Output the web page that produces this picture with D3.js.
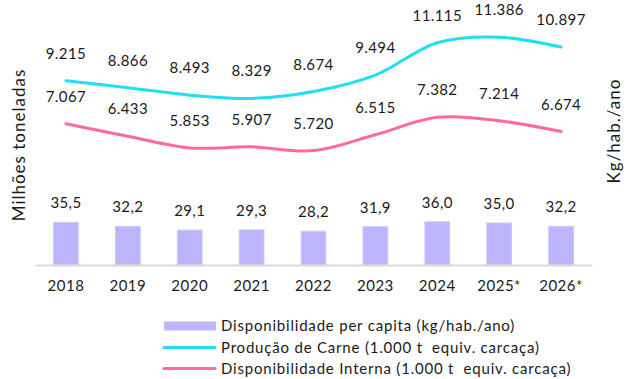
<!DOCTYPE html>
<html>
<head>
<meta charset="utf-8">
<script src="https://cdn.jsdelivr.net/npm/d3@7/dist/d3.min.js"></script>
<style>
  html, body { margin: 0; padding: 0; background: #fff; }
  svg { display: block; font-family: Lato, "Open Sans", sans-serif; }
  text { white-space: pre; }
</style>
</head>
<body>
<svg id="chart" width="630" height="379"></svg>
<script>
// Categories (years; * = projection)
const years = ["2018", "2019", "2020", "2021", "2022", "2023", "2024", "2025*", "2026*"];
// Per-capita availability, kg/hab./ano (bars, right axis)
const perCapita = [35.5, 32.2, 29.1, 29.3, 28.2, 31.9, 36.0, 35.0, 32.2];
// Meat production, 1.000 t equiv. carcaça (left axis)
const producao = [9215, 8866, 8493, 8329, 8674, 9494, 11115, 11386, 10897];
// Domestic availability, 1.000 t equiv. carcaça (left axis)
const interna = [7067, 6433, 5853, 5907, 5720, 6515, 7382, 7214, 6674];

const seriesNames = [
  "Disponibilidade per capita (kg/hab./ano)",
  "Produção de Carne (1.000 t  equiv. carcaça)",
  "Disponibilidade Interna (1.000 t  equiv. carcaça)"
];
const colors = { bar: "#bcb5fc", prod: "#22def3", int: "#ff6b96" };

const svg = d3.select("#chart");
const plot = { left: 35, right: 592, top: 25, bottom: 265 };

const x = d3.scaleBand().domain(years).range([plot.left, plot.right]).paddingInner(0.6).paddingOuter(0.3);
const yLeft = d3.scaleLinear().domain([0, 12000]).range([plot.bottom, plot.top]);
const yRight = d3.scaleLinear().domain([0, 200]).range([plot.bottom, plot.top]);
const cx = d => x(d) + x.bandwidth() / 2;

const fmtInt = v => d3.format(",")(v).replace(/,/g, ".");
const fmtDec = v => d3.format(".1f")(v).replace(".", ",");

// Bars
svg.append("g").selectAll("rect").data(years).join("rect")
  .attr("x", d => x(d))
  .attr("width", x.bandwidth())
  .attr("y", (d, i) => yRight(perCapita[i]))
  .attr("height", (d, i) => plot.bottom - yRight(perCapita[i]))
  .attr("fill", colors.bar)
  .attr("stroke", "#cdc8fd")
  .attr("stroke-width", 1);

// Baseline axis
const xAxis = d3.axisBottom(x).tickSize(0).tickPadding(15);
const gx = svg.append("g").attr("transform", `translate(0,${plot.bottom})`).call(xAxis);
gx.select(".domain").attr("stroke", "#d9d9d9").attr("stroke-width", 2);
gx.selectAll("text").attr("font-size", 15).attr("fill", "#1a1a1a")
  .attr("font-family", "Lato, sans-serif").attr("letter-spacing", 0.5);

// Lines
const line = yScale => d3.line()
  .x((d, i) => cx(years[i]))
  .y(d => yScale(d))
  .curve(d3.curveCatmullRom.alpha(0.5));

svg.append("path").datum(producao)
  .attr("d", line(yLeft)).attr("fill", "none")
  .attr("stroke", colors.prod).attr("stroke-width", 3).attr("stroke-linecap", "round");
svg.append("path").datum(interna)
  .attr("d", line(yLeft)).attr("fill", "none")
  .attr("stroke", colors.int).attr("stroke-width", 3).attr("stroke-linecap", "round");

// Value labels
const labelStyle = sel => sel.attr("text-anchor", "middle").attr("font-size", 15)
  .attr("letter-spacing", 0.4).attr("fill", "#1a1a1a");

svg.append("g").selectAll("text").data(perCapita).join("text")
  .attr("x", (d, i) => cx(years[i]))
  .attr("y", d => yRight(d) - 14)
  .text(fmtDec).call(labelStyle);

svg.append("g").selectAll("text").data(producao).join("text")
  .attr("x", (d, i) => cx(years[i]))
  .attr("y", d => yLeft(d) - 22)
  .text(fmtInt).call(labelStyle);

svg.append("g").selectAll("text").data(interna).join("text")
  .attr("x", (d, i) => cx(years[i]))
  .attr("y", d => yLeft(d) - 22)
  .text(fmtInt).call(labelStyle);

// Axis titles
svg.append("text")
  .attr("transform", "translate(25,145) rotate(-90)")
  .attr("text-anchor", "middle").attr("font-size", 17).attr("letter-spacing", 1)
  .attr("fill", "#1a1a1a")
  .text("Milhões toneladas");
svg.append("text")
  .attr("transform", "translate(620,131) rotate(-90)")
  .attr("text-anchor", "middle").attr("font-size", 17).attr("letter-spacing", 1)
  .attr("fill", "#1a1a1a")
  .text("Kg/hab./ano");

// Legend
const legend = svg.append("g");
const legendRows = [
  { name: seriesNames[0], type: "bar", color: colors.bar, y: 326 },
  { name: seriesNames[1], type: "line", color: colors.prod, y: 347.5 },
  { name: seriesNames[2], type: "line", color: colors.int, y: 368.5 }
];
legendRows.forEach(r => {
  if (r.type === "bar") {
    legend.append("rect").attr("x", 164).attr("y", r.y - 4.5).attr("width", 52).attr("height", 9).attr("fill", r.color);
  } else {
    legend.append("line").attr("x1", 164).attr("x2", 215).attr("y1", r.y).attr("y2", r.y)
      .attr("stroke", r.color).attr("stroke-width", 3).attr("stroke-linecap", "round");
  }
  legend.append("text").attr("x", 221).attr("y", r.y).attr("dy", "0.35em")
    .attr("font-size", 15).attr("letter-spacing", 0.8).attr("fill", "#1a1a1a").text(r.name);
});
</script>
</body>
</html>
